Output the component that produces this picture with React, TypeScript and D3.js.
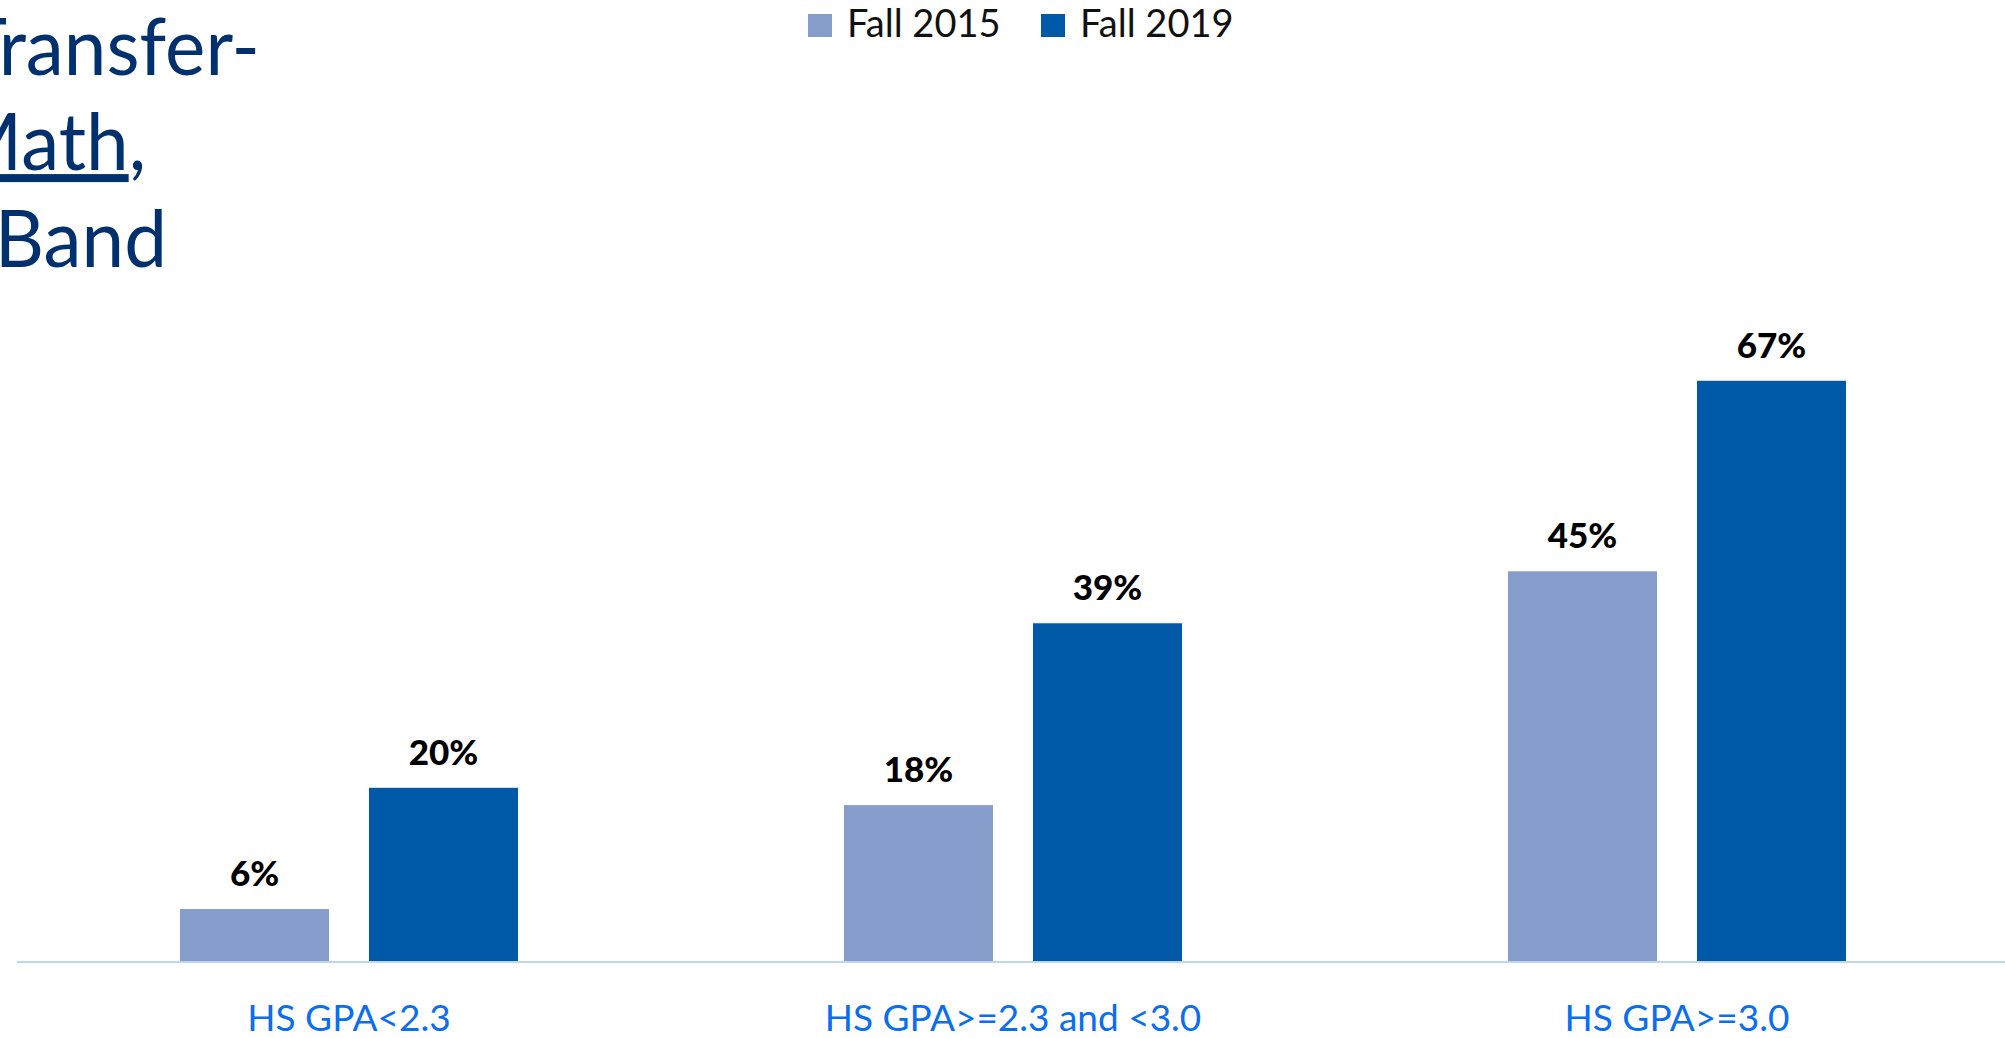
import React from "react";
import * as d3 from "d3";

const categories = ["HS GPA<2.3", "HS GPA>=2.3 and <3.0", "HS GPA>=3.0"];
const seriesNames = ["Fall 2015", "Fall 2019"];
const fall2015 = [6, 18, 45];
const fall2019 = [20, 39, 67];
const seriesValues = [fall2015, fall2019];
const seriesColors = ["#869DCB", "#0059A6"];
const titleLines = ["Transfer-", "Math,", "Band"];

const W = 2005;
const H = 1038;
const FONT = "'Source Sans Pro', Lato, 'Open Sans', sans-serif";

export default function App() {
  const baseY = 961;
  const x0 = d3.scaleBand<string>().domain(categories).range([17, 2009]).padding(0);
  const step = x0.bandwidth();
  const outer = (step - 338) / 2;
  const x1 = d3
    .scaleBand<string>()
    .domain(seriesNames)
    .range([outer, step - outer])
    .paddingInner(40 / 189)
    .paddingOuter(0);
  const y = d3.scaleLinear().domain([0, 100]).range([baseY, baseY - 866]);

  const titleX = [260, 146, 167];
  const titleY = [75, 170, 267];
  const sx = 0.955;

  return (
    <div style={{ position: "absolute", left: 0, top: 0 }}>
      <svg width={W} height={H} style={{ display: "block", background: "#fff" }} fontFamily={FONT}>
        {/* title (partially clipped at the left edge, as in the reference) */}
        <g transform={`scale(${sx},1)`}>
          {titleLines.map((t, i) => (
            <text
              key={t}
              x={titleX[i] / sx}
              y={titleY[i]}
              textAnchor="end"
              fontSize={80}
              fill="#00306E"
            >
              {i === 1 ? (
                <>
                  <tspan textDecoration="underline">Math</tspan>
                  <tspan>,</tspan>
                </>
              ) : (
                t
              )}
            </text>
          ))}
        </g>

        {/* legend */}
        {seriesNames.map((s, i) => {
          const lx = [808, 1041][i];
          return (
            <g key={s}>
              <rect x={lx} y={14} width={24} height={23} fill={seriesColors[i]} />
              <text x={lx + 39} y={37} fontSize={38} fill="#111">
                {s}
              </text>
            </g>
          );
        })}

        {/* bars */}
        {categories.map((c, ci) => (
          <g key={c} transform={`translate(${x0(c)},0)`}>
            {seriesNames.map((s, si) => {
              const v = seriesValues[si][ci];
              const bx = x1(s) as number;
              return (
                <g key={s}>
                  <rect
                    x={bx}
                    y={y(v)}
                    width={x1.bandwidth()}
                    height={baseY - y(v)}
                    fill={seriesColors[si]}
                  />
                  <text
                    x={bx + x1.bandwidth() / 2}
                    y={y(v) - 23}
                    textAnchor="middle"
                    fontSize={35}
                    fontWeight={900}
                    fill="#000"
                  >
                    {`${v}%`}
                  </text>
                </g>
              );
            })}
            <text
              x={step / 2}
              y={1031}
              textAnchor="middle"
              fontSize={37}
              fill="#0A6EF0"
            >
              {c}
            </text>
          </g>
        ))}

        {/* axis line */}
        <line x1={17} x2={W} y1={baseY + 1} y2={baseY + 1} stroke="#BDD7EE" strokeWidth={2} />
      </svg>
    </div>
  );
}
